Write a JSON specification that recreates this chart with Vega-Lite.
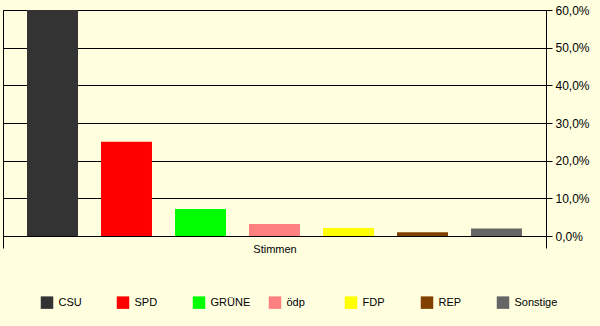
{
  "$schema": "https://vega.github.io/schema/vega-lite/v6.json",
  "width": 543,
  "height": 226,
  "autosize": {"type": "none"},
  "padding": {"left": 3, "top": 10, "right": 54, "bottom": 90},
  "background": "#FFFFE0",
  "config": {"view": {"stroke": "black", "strokeWidth": 1}, "font": "Liberation Sans"},
  "data": {
    "values": [
      {"group": "Stimmen", "partei": "CSU", "anteil": 60.0},
      {"group": "Stimmen", "partei": "SPD", "anteil": 25.0},
      {"group": "Stimmen", "partei": "GRÜNE", "anteil": 7.2},
      {"group": "Stimmen", "partei": "ödp", "anteil": 3.2},
      {"group": "Stimmen", "partei": "FDP", "anteil": 2.1},
      {"group": "Stimmen", "partei": "REP", "anteil": 1.0},
      {"group": "Stimmen", "partei": "Sonstige", "anteil": 2.0}
    ]
  },
  "mark": {"type": "bar"},
  "encoding": {
    "x": {
      "field": "group",
      "type": "nominal",
      "scale": {"paddingInner": 0, "paddingOuter": 0},
      "axis": {
        "title": null,
        "orient": "bottom",
        "tickBand": "extent",
        "tickSize": 12,
        "tickColor": "black",
        "domainColor": "black",
        "labelAngle": 0,
        "labelFontSize": 11,
        "labelColor": "black",
        "labelPadding": -5,
        "grid": false
      }
    },
    "xOffset": {
      "field": "partei",
      "type": "nominal",
      "sort": ["CSU", "SPD", "GRÜNE", "ödp", "FDP", "REP", "Sonstige"],
      "scale": {"paddingInner": 0.311, "paddingOuter": 0.3245}
    },
    "y": {
      "field": "anteil",
      "type": "quantitative",
      "scale": {"domain": [0, 60], "nice": false},
      "axis": {
        "orient": "right",
        "title": null,
        "values": [0, 10, 20, 30, 40, 50, 60],
        "labelExpr": "replace(format(datum.value, '.1f'), '.', ',') + '%'",
        "grid": true,
        "gridColor": "black",
        "gridOpacity": 1,
        "domainColor": "black",
        "tickColor": "black",
        "tickSize": 6,
        "labelFontSize": 12,
        "labelColor": "black",
        "labelPadding": 3
      }
    },
    "color": {
      "field": "partei",
      "type": "nominal",
      "scale": {
        "domain": ["CSU", "SPD", "GRÜNE", "ödp", "FDP", "REP", "Sonstige"],
        "range": ["#333333", "#FF0000", "#00FF00", "#FF8080", "#FFFF00", "#804000", "#666666"]
      },
      "legend": {
        "title": null,
        "orient": "none",
        "legendX": 37.5,
        "legendY": 286,
        "direction": "horizontal",
        "columns": 7,
        "gridAlign": "all",
        "columnPadding": 15,
        "symbolType": "square",
        "symbolSize": 156,
        "symbolStrokeWidth": 0,
        "symbolOpacity": 1,
        "labelFontSize": 11,
        "labelColor": "black",
        "labelOffset": 5,
        "padding": 0
      }
    }
  }
}
